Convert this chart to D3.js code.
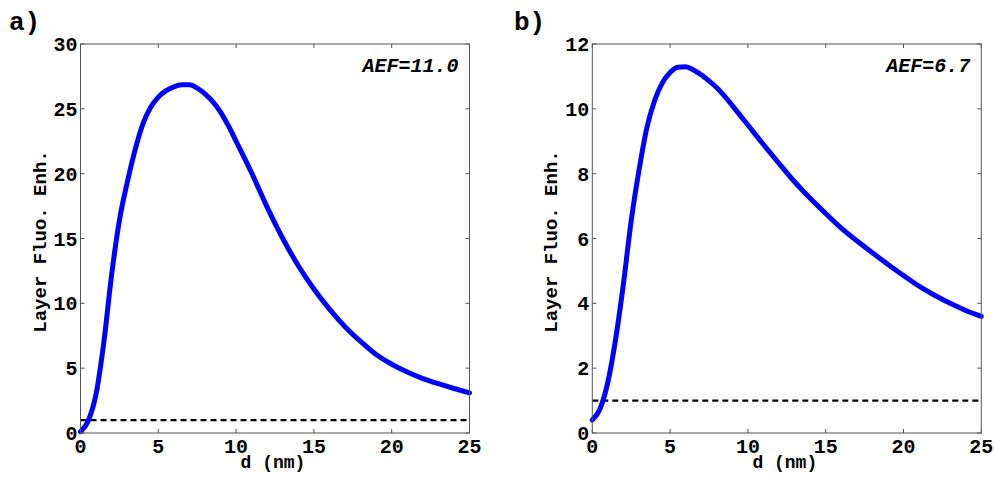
<!DOCTYPE html>
<html>
<head>
<meta charset="utf-8">
<script src="https://cdn.jsdelivr.net/npm/d3@7"></script>
<style>
  body { margin: 0; background: #fff; }
  svg text { font-family: "Liberation Mono", "Courier New", monospace; font-weight: bold; }
</style>
</head>
<body>
<div id="chart"></div>
<script>
var dA = [0, 0.5, 1, 1.5, 2, 2.5, 3, 3.5, 4, 4.5, 5, 5.5, 6, 6.5, 7, 7.5, 8, 8.5, 9, 9.5,
          10, 11, 12, 13, 14, 15, 16, 17, 18, 19, 20, 21, 22, 23, 24, 25]
var enhA = [0.1, 0.95, 3.0, 7.0, 12.2, 16.4, 19.3, 21.8, 23.8, 25.1, 25.9, 26.4, 26.7, 26.85, 26.85, 26.6,
            26.15, 25.55, 24.75, 23.7, 22.5, 20.05, 17.4, 15.0, 12.9, 11.1, 9.55, 8.2, 7.06, 6.05,
            5.3, 4.7, 4.2, 3.8, 3.43, 3.1]
var enhB = [0.4, 0.75, 1.57, 2.9, 4.6, 6.55, 8.1, 9.4, 10.25, 10.8, 11.12, 11.28, 11.3, 11.2, 11.05, 10.86,
            10.65, 10.39, 10.1, 9.8, 9.5, 8.9, 8.32, 7.75, 7.24, 6.77, 6.32, 5.93, 5.56, 5.2,
            4.86, 4.53, 4.25, 4.0, 3.78, 3.6]

var xTicks = [0, 5, 10, 15, 20, 25]
var yTicksA = [0, 5, 10, 15, 20, 25, 30]
var yTicksB = [0, 2, 4, 6, 8, 10, 12]
var refLevel = 1

var panels = [
  { label: "a)", aef: "AEF=11.0", ys: enhA, ymax: 30, yticks: yTicksA, left: 80.5, labelX: 9 },
  { label: "b)", aef: "AEF=6.7", ys: enhB, ymax: 12, yticks: yTicksB, left: 592.3, labelX: 514 }
]

var width = 995, height = 477
var plotW = 389, plotTop = 44, plotBottom = 433
var axisColor = "#555"
var tickLen = 4

var svg = d3.select("#chart").append("svg")
  .attr("width", width)
  .attr("height", height)

panels.forEach(function (p) {
  var x = d3.scaleLinear().domain([0, 25]).range([p.left, p.left + plotW])
  var y = d3.scaleLinear().domain([0, p.ymax]).range([plotBottom, plotTop])

  var g = svg.append("g")

  // reference line at 1
  g.append("line")
    .attr("x1", x(0)).attr("x2", x(25))
    .attr("y1", y(refLevel)).attr("y2", y(refLevel))
    .attr("stroke", "#000")
    .attr("stroke-width", 2.2)
    .attr("stroke-dasharray", "6,4")

  var line = d3.line()
    .x(function (d, i) { return x(dA[i]) })
    .y(function (d) { return y(d) })
    .curve(d3.curveMonotoneX)

  g.append("path")
    .datum(p.ys)
    .attr("d", line)
    .attr("fill", "none")
    .attr("stroke", "#0000ff")
    .attr("stroke-width", 5)
    .attr("stroke-linejoin", "round")
    .attr("stroke-linecap", "round")

  // box
  g.append("rect")
    .attr("x", x(0)).attr("y", plotTop)
    .attr("width", plotW).attr("height", plotBottom - plotTop)
    .attr("fill", "none")
    .attr("stroke", axisColor)
    .attr("stroke-width", 1)

  // inward ticks on all four sides
  var ax = g.append("g")
  xTicks.forEach(function (t) {
    ax.append("line").attr("x1", x(t)).attr("x2", x(t)).attr("y1", plotBottom).attr("y2", plotBottom - tickLen)
      .attr("stroke", axisColor)
    ax.append("line").attr("x1", x(t)).attr("x2", x(t)).attr("y1", plotTop).attr("y2", plotTop + tickLen)
      .attr("stroke", axisColor)
    ax.append("text")
      .attr("x", x(t)).attr("y", 453)
      .attr("text-anchor", "middle")
      .attr("font-size", 20)
      .text(t)
  })
  p.yticks.forEach(function (t) {
    ax.append("line").attr("x1", x(0)).attr("x2", x(0) + tickLen).attr("y1", y(t)).attr("y2", y(t))
      .attr("stroke", axisColor)
    ax.append("line").attr("x1", x(25)).attr("x2", x(25) - tickLen).attr("y1", y(t)).attr("y2", y(t))
      .attr("stroke", axisColor)
    ax.append("text")
      .attr("x", x(0) - 3).attr("y", y(t))
      .attr("dy", "0.35em")
      .attr("text-anchor", "end")
      .attr("font-size", 20)
      .text(t)
  })

  g.append("text")
    .attr("x", (x(0) + x(25)) / 2 - 2).attr("y", 468)
    .attr("text-anchor", "middle")
    .attr("font-size", 18)
    .text("d (nm)")

  g.append("text")
    .attr("transform", "translate(" + (x(0) - 35) + "," + ((plotTop + plotBottom) / 2 + 3) + ") rotate(-90)")
    .attr("text-anchor", "middle")
    .attr("font-size", 19)
    .text("Layer Fluo. Enh.")

  g.append("text")
    .attr("x", x(25) - 11).attr("y", 72)
    .attr("text-anchor", "end")
    .attr("font-size", 20)
    .attr("font-style", "italic")
    .text(p.aef)

  g.append("text")
    .attr("x", p.labelX).attr("y", 30)
    .attr("font-size", 26)
    .text(p.label)
})
</script>
</body>
</html>
